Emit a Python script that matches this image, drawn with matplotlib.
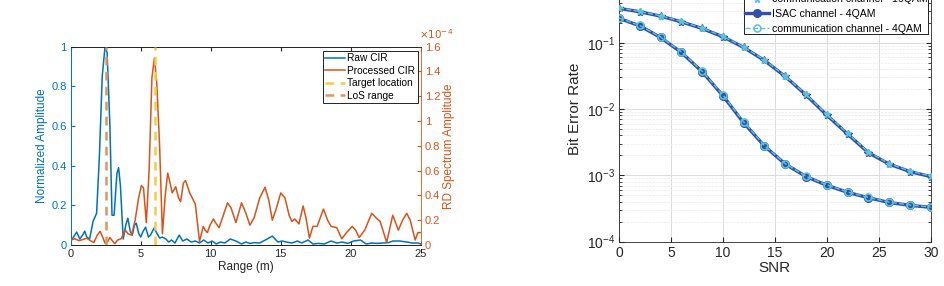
import matplotlib.pyplot as plt
import numpy as np
from matplotlib.ticker import FormatStrFormatter, LogLocator, NullFormatter

plt.rcParams["font.family"] = ["Liberation Sans", "DejaVu Sans"]

# ---- left panel: CIR vs range ----
raw_range = [0.0, 0.2, 0.43, 0.65, 0.85, 1.0, 1.15, 1.35, 1.6, 1.85, 2.05, 2.25, 2.45, 2.6,
             2.8, 2.95, 3.1, 3.3, 3.42, 3.55, 3.75, 3.93, 4.08, 4.25, 4.4, 4.55, 4.68, 4.85,
             5.0, 5.18, 5.35, 5.55, 5.7, 5.95, 6.15, 6.35, 6.55, 6.8, 7.0, 7.2, 7.45, 7.75,
             8.0, 8.3, 8.6, 8.9, 9.2, 9.5, 9.8, 10.1, 10.4, 10.7, 11.0, 11.4, 11.8, 12.2,
             12.5, 12.8, 13.1, 13.5, 13.9, 14.4, 14.8, 15.1, 15.4, 15.8, 16.2, 16.5, 16.95,
             17.3, 17.7, 18.1, 18.6, 19.0, 19.4, 19.8, 20.2, 20.7, 21.1, 21.5, 21.9, 22.3,
             22.7, 23.0, 23.5, 24.0, 24.4, 24.8, 25.0]
raw_cir = [0.02, 0.04, 0.065, 0.03, 0.05, 0.07, 0.04, 0.03, 0.12, 0.16, 0.45, 0.85, 1.0, 0.97,
           0.6, 0.15, 0.15, 0.36, 0.39, 0.3, 0.03, 0.1, 0.135, 0.07, 0.05, 0.1, 0.11, 0.06,
           0.04, 0.07, 0.09, 0.04, 0.05, 0.085, 0.06, 0.035, 0.04, 0.03, 0.015, 0.025, 0.01, 0.05,
           0.02, 0.03, 0.015, 0.02, 0.01, 0.025, 0.01, 0.02, 0.005, 0.015, 0.01, 0.03, 0.02, 0.005,
           0.015, 0.008, 0.012, 0.01, 0.025, 0.045, 0.015, 0.02, 0.015, 0.01, 0.02, 0.01, 0.025,
           0.005, 0.008, 0.005, 0.02, 0.01, 0.015, 0.008, 0.02, 0.025, 0.005, 0.01, 0.008, 0.01,
           0.012, 0.02, 0.02, 0.015, 0.01, 0.01, 0.005]

proc_range = [0.0, 0.3, 0.6, 0.9, 1.15, 1.4, 1.65, 1.9, 2.1, 2.3, 2.45, 2.65, 2.8, 3.0, 3.15,
              3.35, 3.6, 3.9, 4.1, 4.35, 4.6, 4.85, 5.05, 5.2, 5.4, 5.6, 5.8, 5.98, 6.15, 6.35,
              6.55, 6.75, 6.93, 7.1, 7.25, 7.5, 7.7, 7.85, 8.05, 8.2, 8.5, 8.9, 9.2, 9.47,
              9.6, 9.76, 9.95, 10.19, 10.4, 10.6, 10.9, 11.2, 11.45, 11.8, 12.2, 12.5, 12.8,
              13.1, 13.5, 13.88, 14.15, 14.4, 14.7, 15.0, 15.3, 15.6, 15.8, 16.0, 16.3, 16.6,
              16.8, 17.05, 17.3, 17.6, 18.05, 18.35, 18.6, 19.0, 19.36, 19.7, 20.1, 20.35,
              20.6, 21.0, 21.5, 21.8, 22.1, 22.57, 22.8, 23.0, 23.4, 23.7, 24.0, 24.25, 24.6,
              24.8, 25.0]
proc_cir = [0.04, 0.05, 0.035, 0.045, 0.055, 0.035, 0.02, 0.08, 0.11, 0.06, 0.015, 0.03, 0.06,
            0.03, 0.01, 0.04, 0.05, 0.12, 0.09, 0.08, 0.2, 0.38, 0.48, 0.46, 0.18, 0.6, 1.35,
            1.51, 1.3, 0.8, 0.09, 0.4, 0.58, 0.5, 0.42, 0.47, 0.38, 0.35, 0.5, 0.52, 0.42,
            0.33, 0.03, 0.15, 0.12, 0.1, 0.16, 0.21, 0.17, 0.14, 0.24, 0.34, 0.3, 0.18, 0.34,
            0.26, 0.16, 0.22, 0.38, 0.466, 0.36, 0.2, 0.3, 0.42, 0.38, 0.24, 0.19, 0.21, 0.17,
            0.315, 0.22, 0.056, 0.15, 0.15, 0.29, 0.2, 0.15, 0.14, 0.05, 0.1, 0.15, 0.12,
            0.06, 0.12, 0.256, 0.22, 0.19, 0.02, 0.14, 0.24, 0.12, 0.2, 0.256, 0.2, 0.04,
            0.1, 0.1]

target_location = 6.0
los_range = 2.5

# ---- right panel: BER vs SNR ----
snr = [0, 2, 4, 6, 8, 10, 12, 14, 16, 18, 20, 22, 24, 26, 28, 30]
ber_isac_16qam = [0.33, 0.293, 0.252, 0.207, 0.164, 0.123, 0.085, 0.054, 0.031, 0.0163,
                  0.0081, 0.0042, 0.0022, 0.00148, 0.00114, 0.00096]
ber_comm_16qam = [0.335, 0.296, 0.255, 0.209, 0.166, 0.125, 0.086, 0.055, 0.0315, 0.0166,
                  0.0083, 0.0043, 0.00225, 0.0015, 0.00116, 0.00098]
ber_isac_4qam = [0.233, 0.18, 0.12, 0.0715, 0.0366, 0.0159, 0.0062, 0.00277, 0.00148, 0.00096,
                 0.00071, 0.000555, 0.00046, 0.00039, 0.000353, 0.00033]
ber_comm_4qam = [0.236, 0.182, 0.122, 0.073, 0.0372, 0.0163, 0.0064, 0.00282, 0.0015, 0.00097,
                 0.00072, 0.000562, 0.000465, 0.000395, 0.000357, 0.000334]

blue = "#0072BD"
orange = "#D95319"
gray = "#262626"

fig = plt.figure(figsize=(9.44, 2.86), dpi=100)

# left plot
ax = fig.add_axes([0.0749, 0.1434, 0.3708, 0.6933])
ax2 = ax.twinx()
h_raw, = ax.plot(raw_range, raw_cir, color=blue, lw=1.1, zorder=3)
h_proc, = ax2.plot(proc_range, proc_cir, color=orange, lw=1.1, zorder=3)
h_tgt, = ax2.plot([target_location, target_location], [0, 1.6], color="#F7CB45",
                  lw=1.8, ls=(0, (3.5, 2.5)), zorder=4)
h_los, = ax2.plot([los_range, los_range], [0, 1.6], color="#E1955F",
                  lw=1.8, ls=(0, (3.5, 2.5)), zorder=4)
ax.set_xlim(0, 25)
ax.set_ylim(0, 1)
ax2.set_ylim(0, 1.6)
ax.set_xticks(np.arange(0, 26, 5))
ax.set_yticks(np.arange(0, 1.01, 0.2))
ax2.set_yticks(np.arange(0, 1.61, 0.2))
ax.yaxis.set_major_formatter(FormatStrFormatter("%g"))
ax2.yaxis.set_major_formatter(FormatStrFormatter("%g"))
ax.tick_params(axis="x", direction="in", length=3, labelsize=8, colors=gray, top=True,
               pad=3)
ax.tick_params(axis="y", direction="in", length=3, labelsize=8, colors=blue, pad=3)
ax2.tick_params(axis="y", direction="in", length=3, labelsize=8, colors=orange, pad=3)
for s in ["top", "bottom"]:
    ax2.spines[s].set_color(gray)
ax2.spines["left"].set_color(blue)
ax2.spines["right"].set_color(orange)
ax.spines["left"].set_color(blue)
ax.spines["right"].set_visible(False)
for a in (ax, ax2):
    for s in a.spines.values():
        s.set_linewidth(0.6)
ax.set_xlabel("Range (m)", fontsize=8.5, color=gray, labelpad=1)
ax.set_ylabel("Normalized Amplitude", fontsize=8.5, color=blue, labelpad=2)
ax2.set_ylabel("RD Spectrum Amplitude", fontsize=8.5, color=orange, labelpad=2)
ax2.text(0.995, 1.03, r"$\times10^{-4}$", transform=ax2.transAxes, fontsize=7.5,
         color=orange, ha="left", va="bottom")
leg = ax2.legend([h_raw, h_proc, h_tgt, h_los],
                 ["Raw CIR", "Processed CIR", "Target location", "LoS range"],
                 loc="upper right", bbox_to_anchor=(0.992, 0.98), fontsize=7.3,
                 frameon=True, fancybox=False, edgecolor="black", framealpha=1,
                 handlelength=2.0, handletextpad=0.2, labelspacing=0.25,
                 borderpad=0.25, borderaxespad=0)
leg.get_frame().set_linewidth(0.6)

# right plot
bx = fig.add_axes([0.6557, 0.1549, 0.3302, 0.9276])
dark = "#3050AE"
light = "#5CC3D8"
l1, = bx.plot(snr, ber_isac_16qam, color=dark, lw=2.4, marker="*", ms=6, mfc=dark,
              mec=dark, zorder=3)
l2, = bx.plot(snr, ber_comm_16qam, color=light, lw=1.0, ls="--", marker="*", ms=5,
              mfc=light, mec=light, zorder=4)
l3, = bx.plot(snr, ber_isac_4qam, color=dark, lw=2.4, marker="o", ms=5.5, mfc=dark,
              mec=dark, zorder=3)
l4, = bx.plot(snr, ber_comm_4qam, color=light, lw=1.0, ls="--", marker="o", ms=5,
              mfc="none", mec=light, mew=1.2, zorder=4)
bx.set_yscale("log")
bx.set_xlim(0, 30)
bx.set_ylim(1e-4, 1)
bx.set_xticks(np.arange(0, 31, 5))
bx.yaxis.set_major_locator(LogLocator(base=10, numticks=10))
bx.yaxis.set_minor_locator(LogLocator(base=10, subs=np.arange(2, 10), numticks=10))
bx.yaxis.set_minor_formatter(NullFormatter())
bx.grid(True, which="major", color="#DCDCDC", lw=0.7)
bx.grid(True, which="minor", axis="y", color="#EBEBEB", lw=0.5, ls="--")
bx.set_axisbelow(True)
bx.tick_params(which="both", direction="in", top=True, right=True, colors=gray)
bx.tick_params(which="major", length=3.5, labelsize=10, pad=3)
bx.tick_params(which="minor", length=2)
for s in bx.spines.values():
    s.set_linewidth(0.6)
    s.set_color(gray)
bx.set_xlabel("SNR", fontsize=11, color=gray, labelpad=1)
bx.set_ylabel("Bit Error Rate", fontsize=11, color=gray, labelpad=3)
leg2 = bx.legend([l1, l2, l3, l4],
                 ["ISAC channel - 16QAM", "communication channel - 16QAM",
                  "ISAC channel - 4QAM", "communication channel - 4QAM"],
                 loc="lower right", bbox_to_anchor=(0.992, 0.782), fontsize=7.6,
                 frameon=True, fancybox=False, edgecolor="black", framealpha=1,
                 handlelength=2.3, handletextpad=0.3, labelspacing=0.45,
                 borderpad=0.05, borderaxespad=0)
leg2.get_frame().set_linewidth(0.6)

fig.savefig("out.png", dpi=100)
